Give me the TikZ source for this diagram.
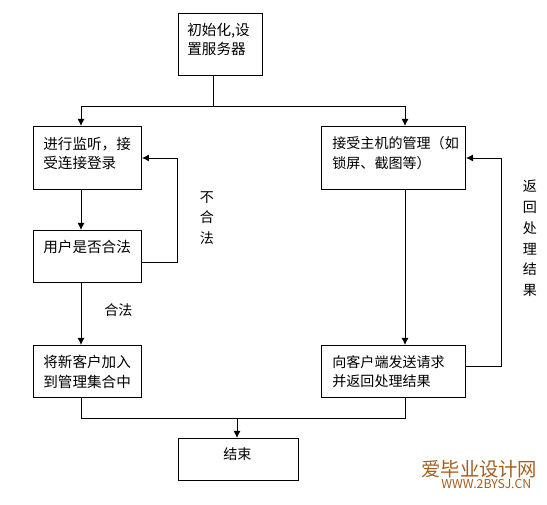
\documentclass[tikz,border=0pt]{standalone}
\usepackage{fontspec}
\usepackage{tikz}
\usetikzlibrary{arrows.meta}
\setmainfont{Noto Sans CJK SC}
\definecolor{markbrown}{RGB}{165,95,30}

\begin{document}
\begin{tikzpicture}[x=0.02cm,y=-0.02cm]
\useasboundingbox (0,0) rectangle (547,504);
\tikzset{
  flowbox/.style={rectangle, draw, line width=0.55pt, anchor=north west, inner sep=0pt},
  boxtext/.style={anchor=north west, inner sep=0pt, font=\fontsize{8pt}{11.2pt}\selectfont, align=left},
  widetext/.style={anchor=north west, inner sep=0pt, font=\fontsize{8.3pt}{11pt}\selectfont, align=left},
  sidetext/.style={anchor=north, inner sep=0pt, font=\fontsize{8pt}{11.8pt}\selectfont, align=center},
  flowline/.style={line width=0.55pt},
  flowarrow/.style={flowline, -{Latex[length=4pt,width=4pt]}}
}
% Boxes
\node[flowbox, minimum width=84*0.02cm, minimum height=62*0.02cm] (init) at (178,13) {};
\node[flowbox, minimum width=108*0.02cm, minimum height=63*0.02cm] (listen) at (33,126) {};
\node[flowbox, minimum width=108*0.02cm, minimum height=52*0.02cm] (check) at (33,230) {};
\node[flowbox, minimum width=108*0.02cm, minimum height=52*0.02cm] (join) at (33,345) {};
\node[flowbox, minimum width=144*0.02cm, minimum height=63*0.02cm] (manage) at (321,126) {};
\node[flowbox, minimum width=144*0.02cm, minimum height=52*0.02cm] (reply) at (321,345) {};
\node[flowbox, minimum width=120*0.02cm, minimum height=42*0.02cm] (finish) at (178,438) {};

% Box texts
\node[widetext] (inittext) at (187,23) {初始化,设\\置服务器};
\node[widetext] (listentext) at (43,137) {进行监听，接\\受连接登录};
\node[widetext] (checktext) at (43,240) {用户是否合法};
\node[widetext] (jointext) at (43,355) {将新客户加入\\到管理集合中};
\node[boxtext] (managetext) at (332,136) {接受主机的管理（如\\锁屏、截图等）};
\node[boxtext] (replytext) at (332,355) {向客户端发送请求\\并返回处理结果};
\node[boxtext] (finishtext) at (223,447) {结束};

% Side labels
\node[boxtext] (oklabel) at (104,303) {合法};
\node[sidetext] (badlabel) at (207,191) {不\\合\\法};
\node[sidetext] (backlabel) at (530,180) {返\\回\\处\\理\\结\\果};

% Arrows
\coordinate (split) at (213,106);
\coordinate (merge) at (237,418);
\coordinate (leftcol) at (81,0);
\coordinate (rightcol) at (405,0);
\coordinate (badturn) at (177,262);
\coordinate (backturn) at (501,366);
\draw[flowline] (init.south -| split) -- (split);
\draw[flowarrow] (split) -| (listen.north -| leftcol);
\draw[flowarrow] (split) -| (manage.north -| rightcol);
\draw[flowarrow] (listen.south -| leftcol) -- (check.north -| leftcol);
\draw[flowarrow] (check.south -| leftcol) -- (join.north -| leftcol);
\draw[flowarrow] (manage.south -| rightcol) -- (reply.north -| rightcol);
\draw[flowline] (join.south -| leftcol) |- (merge);
\draw[flowline] (reply.south -| rightcol) |- (merge);
\draw[flowarrow] (merge) -- (finish.north -| merge);

% Feedback loops
\draw[flowarrow] (check.east |- badturn) -- (badturn) |- (listen.east);
\draw[flowarrow] (reply.east |- backturn) -- (backturn) |- (manage.east);

% Watermark
\node[anchor=north west, inner sep=0pt, text=markbrown, font=\fontsize{11pt}{11pt}\selectfont] (markcn) at (421,460) {爱毕业设计网};
\node[anchor=north west, inner sep=0pt, text=markbrown, font=\fontsize{7pt}{7pt}\selectfont] (markurl) at (441,479) {WWW.2BYSJ.CN};
\end{tikzpicture}
\end{document}
